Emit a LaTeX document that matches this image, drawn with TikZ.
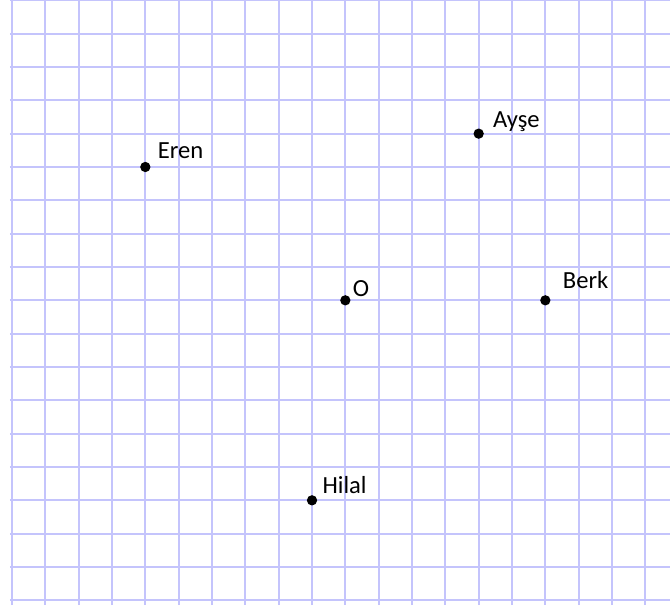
\documentclass[tikz,border=0pt]{standalone}
\usepackage{fontspec}
\setmainfont{Carlito}
\usepackage{tikz}
\usetikzlibrary{positioning}
\definecolor{gridblue}{HTML}{C4C4FC}

\begin{document}
\begin{tikzpicture}[x=0.5cm, y=0.5cm,
    gridline/.style={draw=gridblue, line width=0.85pt},
    dot/.style={circle, fill=black, inner sep=0pt, minimum size=4.4pt},
    lbl/.style={anchor=base west, inner sep=0pt, font=\fontsize{10.5}{12}\selectfont},
]
\useasboundingbox (-0.36,-0.228) rectangle (19.74,18.01);

% ===== Grid =====
\foreach \x in {0,...,19}
  \draw[gridline] (\x,-0.14) -- (\x,18.01);
\foreach \y in {0,...,18}
  \draw[gridline] (-0.06,\y) -- (19.74,\y);

% ===== Points =====
\node[dot] (o) at (10,9) {};
\node[dot] (eren) at (4,13) {};
\node[dot] (ayse) at (14,14) {};
\node[dot] (berk) at (16,9) {};
\node[dot] (hilal) at (9,3) {};

% ===== Labels =====
\node[lbl] (olbl) at ([shift={(3pt,1.7pt)}]o.center) {O};
\node[lbl] (erenlbl) at ([shift={(5.1pt,3.8pt)}]eren.center) {Eren};
\node[lbl] (aydelbl) at ([shift={(6pt,2.6pt)}]ayse.center) {Ayşe};
\node[lbl] (berklbl) at ([shift={(7.3pt,5.1pt)}]berk.center) {Berk};
\node[lbl] (hilallbl) at ([shift={(4.3pt,3pt)}]hilal.center) {Hilal};

\end{tikzpicture}
\end{document}
